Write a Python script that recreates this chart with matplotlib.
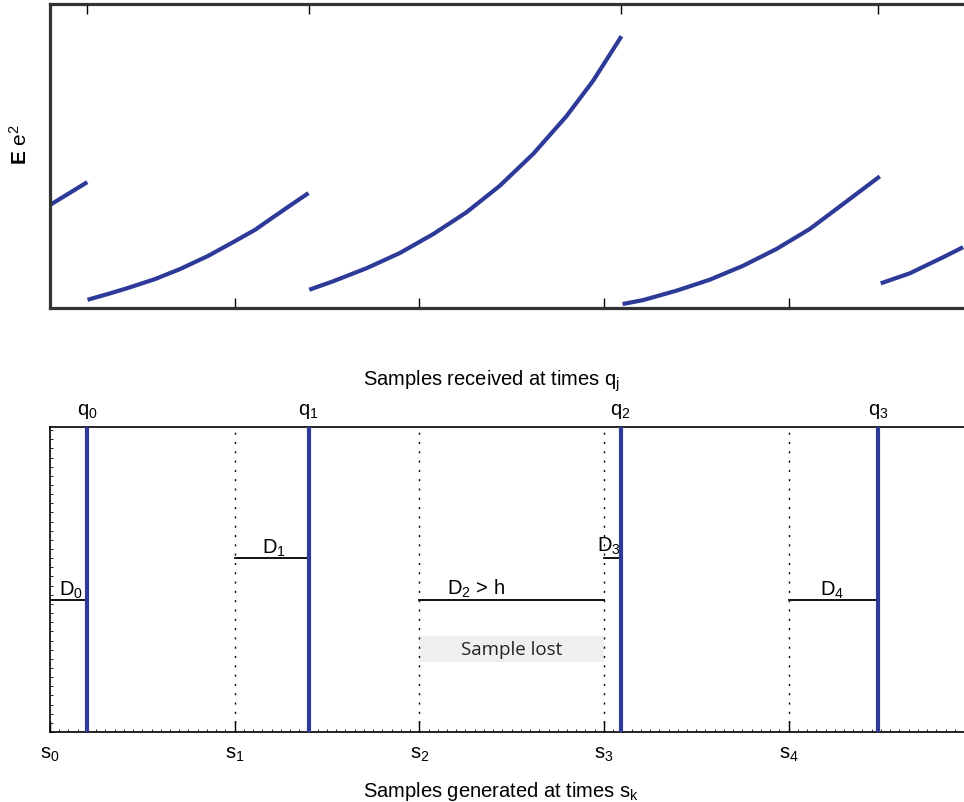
import numpy as np
import matplotlib
matplotlib.use("Agg")
import matplotlib.pyplot as plt
from matplotlib.ticker import MultipleLocator, FixedLocator

plt.rcParams['font.family'] = ['Liberation Sans', 'DejaVu Sans']
plt.rcParams['mathtext.fontset'] = 'custom'
plt.rcParams['mathtext.rm'] = 'Liberation Sans'
plt.rcParams['mathtext.it'] = 'Liberation Sans:italic'
plt.rcParams['mathtext.bf'] = 'Liberation Sans:bold'

# ---------------- data ----------------
s_times = [0, 1, 2, 3, 4]
s_labels = ['s$_0$', 's$_1$', 's$_2$', 's$_3$', 's$_4$']
q_times = [0.2, 1.4, 3.09, 4.485]
q_labels = ['q$_0$', 'q$_1$', 'q$_2$', 'q$_3$']

# delay segments
delay_start = [0, 1, 2, 3, 4]
delay_end = [0.2, 1.4, 3.0, 3.09, 4.485]
delay_level = [0.433, 0.570, 0.433, 0.570, 0.433]
delay_labels = ['D$_0$', 'D$_1$', 'D$_2$ > h', 'D$_3$', 'D$_4$']
delay_label_x = [0.05, 1.146, 2.151, 2.96, 4.17]
delay_label_y = [0.449, 0.587, 0.452, 0.593, 0.449]

lost_start, lost_end = 2.0, 3.0
lost_bottom, lost_top = 0.23, 0.315

# error variance segments
seg_x = [
    [0.0, 0.202],
    [0.203, 0.325, 0.433, 0.568, 0.704, 0.855, 1.002, 1.110, 1.207, 1.305, 1.400],
    [1.404, 1.534, 1.715, 1.895, 2.075, 2.256, 2.436, 2.617, 2.797, 2.942, 3.095],
    [3.101, 3.212, 3.393, 3.573, 3.754, 3.934, 4.115, 4.295, 4.494],
    [4.499, 4.656, 4.837, 4.945],
]
seg_y = [
    [0.339, 0.414],
    [0.027, 0.048, 0.068, 0.095, 0.128, 0.171, 0.220, 0.257, 0.298, 0.339, 0.378],
    [0.060, 0.088, 0.131, 0.181, 0.243, 0.315, 0.402, 0.507, 0.631, 0.748, 0.894],
    [0.013, 0.026, 0.057, 0.093, 0.139, 0.194, 0.260, 0.342, 0.433],
    [0.081, 0.114, 0.167, 0.200],
]

BLUE = '#2e3a98'
XMAX = 4.95
FS = 14.5

fig = plt.figure(figsize=(9.64, 8.03), dpi=100)

# ---------------- top axes ----------------
ax1 = fig.add_axes([50/964, 1-309/803, 1-50/964, 304/803])
for xs, ys in zip(seg_x, seg_y):
    ax1.plot(xs, ys, color=BLUE, lw=3.0, solid_capstyle='butt', solid_joinstyle='round')
ax1.set_xlim(0, XMAX)
ax1.set_ylim(0, 1)
for sp in ['left', 'top', 'bottom']:
    ax1.spines[sp].set_linewidth(2.3)
    ax1.spines[sp].set_color('#333333')
ax1.spines['right'].set_visible(False)
ax1.xaxis.set_major_locator(FixedLocator(s_times[1:]))
ax1.tick_params(axis='x', which='major', direction='in', length=7.5, width=1,
                bottom=True, top=False, labelbottom=False)
ax1.set_yticks([])
sec = ax1.secondary_xaxis('top')
sec.set_xticks(q_times)
sec.tick_params(direction='in', length=7.5, width=1, labeltop=False)
sec.spines['top'].set_visible(False)
fig.text(20/964, 1-145/803, r'$\mathbf{E}\,\,\mathrm{e}^{2}$', rotation=90,
         ha='center', va='center', fontsize=15)

# ---------------- bottom axes ----------------
ax2 = fig.add_axes([50/964, 1-733/803, 1-50/964, 305/803])
ax2.set_xlim(0, XMAX)
ax2.set_ylim(0, 1)

for s in s_times[1:]:
    ax2.plot([s, s], [0, 1], color='black', lw=1.0, linestyle=(0, (1.5, 5.2)))

ax2.fill_between([lost_start, lost_end], lost_bottom, lost_top, color='#eef0f0', lw=0, zorder=1)
ax2.text((lost_start + lost_end) / 2, (lost_bottom + lost_top) / 2, 'Sample lost',
         ha='center', va='center', fontsize=13.5, family=['Open Sans', 'DejaVu Sans'], color='#222222')

for a, b, lvl in zip(delay_start, delay_end, delay_level):
    ax2.plot([a, b], [lvl, lvl], color='black', lw=1.3, zorder=3)
for lab, lx, ly in zip(delay_labels, delay_label_x, delay_label_y):
    ax2.text(lx, ly, lab, ha='left', va='baseline', fontsize=FS, zorder=2)

for q, lab in zip(q_times, q_labels):
    ax2.plot([q, q], [0, 1], color=BLUE, lw=3.0, zorder=4)
    ax2.text(q, 1.043, lab, ha='center', va='baseline', fontsize=FS)

for s, lab in zip(s_times, s_labels):
    ax2.text(s, -0.085, lab, ha='center', va='baseline', fontsize=FS)

ax2.spines['right'].set_visible(False)
for sp in ['left', 'top', 'bottom']:
    ax2.spines[sp].set_linewidth(1.2)
ax2.set_xticks(s_times)
ax2.set_xticklabels([])
ax2.xaxis.set_minor_locator(MultipleLocator(0.05))
ax2.tick_params(axis='x', which='major', direction='in', length=8, width=1)
ax2.tick_params(axis='x', which='minor', direction='in', length=2.5, width=0.6)
ax2.set_yticks([])
ax2.yaxis.set_minor_locator(MultipleLocator(0.03))
ax2.tick_params(axis='y', which='minor', direction='in', length=2.5, width=0.6)

ax2.text(1.695, 1.138, r'Samples received at times q$_\mathrm{j}$',
         ha='left', va='baseline', fontsize=FS)
ax2.text(1.695, -0.21, r'Samples generated at times s$_\mathrm{k}$',
         ha='left', va='baseline', fontsize=FS)

fig.savefig('out.png', dpi=100)
